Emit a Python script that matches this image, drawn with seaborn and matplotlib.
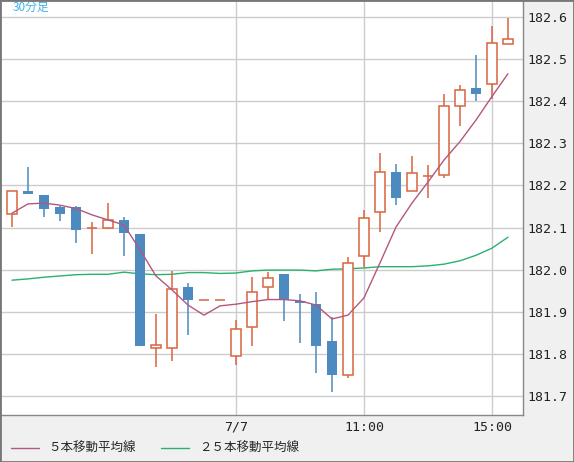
import numpy as np
import pandas as pd
import matplotlib
matplotlib.use('Agg')
import matplotlib.pyplot as plt
import seaborn as sns
from matplotlib.lines import Line2D
from matplotlib.patches import Rectangle

# 30-minute candles
opens  = [182.133, 182.187, 182.177, 182.149, 182.149, 182.098, 182.098, 182.118, 182.085, 181.813,
          181.813, 181.959, 181.929, 181.929, 181.794, 181.863, 181.958, 181.990, 181.926, 181.918,
          181.830, 181.749, 182.033, 182.136, 182.231, 182.187, 182.222, 182.224, 182.388, 182.431,
          182.440, 182.535]
closes = [182.186, 182.180, 182.145, 182.133, 182.095, 182.098, 182.117, 182.088, 181.819, 181.820,
          181.953, 181.928, 181.929, 181.929, 181.858, 181.946, 181.979, 181.929, 181.920, 181.819,
          181.750, 182.016, 182.122, 182.231, 182.171, 182.229, 182.222, 182.388, 182.426, 182.418,
          182.538, 182.547]
highs  = [182.186, 182.244, 182.177, 182.151, 182.151, 182.113, 182.159, 182.126, 182.085, 181.894,
          181.997, 181.968, 181.929, 181.929, 181.880, 181.983, 181.995, 181.990, 181.942, 181.947,
          181.887, 182.029, 182.142, 182.278, 182.251, 182.270, 182.248, 182.416, 182.438, 182.510,
          182.579, 182.597]
lows   = [182.102, 182.180, 182.126, 182.116, 182.064, 182.036, 182.096, 182.033, 181.819, 181.769,
          181.784, 181.845, 181.929, 181.929, 181.773, 181.819, 181.930, 181.879, 181.826, 181.755,
          181.710, 181.744, 182.007, 182.090, 182.154, 182.187, 182.171, 182.218, 182.341, 182.400,
          182.405, 182.535]
ma5  = [182.134, 182.156, 182.158, 182.153, 182.145, 182.130, 182.118, 182.106, 182.047, 181.985,
        181.952, 181.916, 181.892, 181.914, 181.918, 181.924, 181.929, 181.929, 181.926, 181.916,
        181.883, 181.892, 181.933, 182.016, 182.101, 182.158, 182.208, 182.260, 182.304, 182.355,
        182.411, 182.465]
ma25 = [181.975, 181.978, 181.982, 181.985, 181.988, 181.989, 181.989, 181.994, 181.990, 181.988,
        181.989, 181.993, 181.993, 181.991, 181.992, 181.997, 181.999, 181.999, 181.999, 181.997,
        182.001, 182.002, 182.004, 182.007, 182.007, 182.007, 182.009, 182.013, 182.021, 182.034,
        182.051, 182.077]
tick_pos = [14, 22, 30]
tick_labels = ['7/7', '11:00', '15:00']

up_col = '#d9643f'
down_col = '#4c8abf'

sns.set_style('white')
plt.rcParams['font.family'] = ['Noto Sans CJK JP', 'DejaVu Sans']

fig = plt.figure(figsize=(5.74, 4.62), dpi=100, facecolor='#f0f0f0')
ax = fig.add_axes([0, 1 - 415 / 462, 523 / 574, 415 / 462])
ax.set_facecolor('white')

df = pd.DataFrame({'i': np.arange(len(opens)), 'ma5': ma5, 'ma25': ma25})

for i in range(len(opens)):
    o, c, h, l = opens[i], closes[i], highs[i], lows[i]
    up = c >= o
    col = up_col if up else down_col
    top, bot = max(o, c), min(o, c)
    if h > top:
        ax.vlines(i, top, h, color=col, lw=1.1, zorder=3)
    if l < bot:
        ax.vlines(i, l, bot, color=col, lw=1.1, zorder=3)
    if top - bot < 0.002:
        ax.hlines(o, i - 0.34, i + 0.34, color=col, lw=1.1, zorder=3)
    elif up:
        ax.bar(i, top - bot, bottom=bot, width=0.66, facecolor='white', edgecolor=col, lw=1.1, zorder=3)
    else:
        ax.bar(i, top - bot, bottom=bot, width=0.66, color=col, lw=0, zorder=3)

sns.lineplot(data=df, x='i', y='ma5', ax=ax, color='#b4577f', lw=1, zorder=4)
sns.lineplot(data=df, x='i', y='ma25', ax=ax, color='#2bb06e', lw=1, zorder=2)

ax.set_xlim(-0.75, 31.94)
ax.set_ylim(181.655, 182.640)
yt = np.round(np.arange(181.7, 182.65, 0.1), 1)
ax.set_yticks(yt)
ax.set_yticklabels([f'{v:.1f}' for v in yt], family='DejaVu Sans Mono')
ax.yaxis.tick_right()
ax.set_xticks(tick_pos)
ax.set_xticklabels(tick_labels, family='DejaVu Sans Mono')
ax.tick_params(length=0, labelsize=9.5, colors='#222222', pad=3)
ax.tick_params(axis='x', pad=4)
ax.grid(True, color='#cccccc', lw=1)
ax.set_axisbelow(True)
ax.set_xlabel('')
ax.set_ylabel('')
for s in ax.spines.values():
    s.set_color('#888888')
    s.set_linewidth(1)

ax.text(0.024, 0.998, '30分足', transform=ax.transAxes, ha='left', va='top',
        color='#3fb4e6', fontsize=8.5)

handles = [Line2D([], [], color='#b4577f', lw=1), Line2D([], [], color='#2bb06e', lw=1)]
fig.legend(handles, ['５本移動平均線', '２５本移動平均線'], loc='lower left',
           bbox_to_anchor=(0.0, -0.01), ncol=2, frameon=False, fontsize=9,
           handlelength=2.2, columnspacing=2.0, handletextpad=0.8)

fig.patches.append(Rectangle((0, 0), 1, 1, transform=fig.transFigure, fill=False,
                             edgecolor='#777777', lw=2))

fig.savefig('out.png', dpi=100, facecolor=fig.get_facecolor())
